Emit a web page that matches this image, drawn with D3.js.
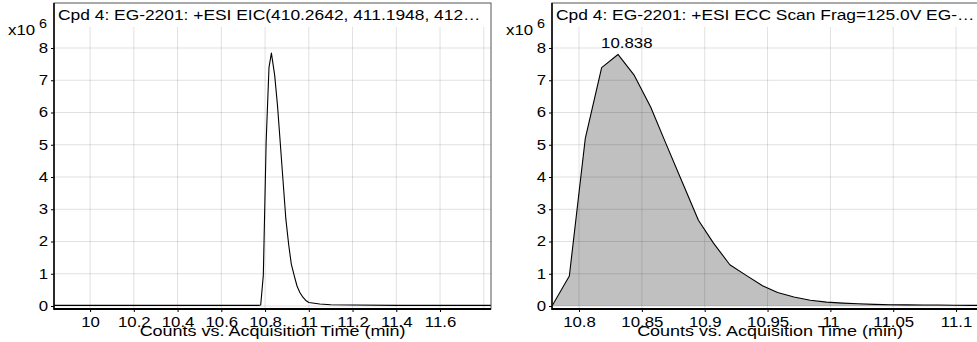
<!DOCTYPE html>
<html>
<head>
<meta charset="utf-8">
<script src="https://cdn.jsdelivr.net/npm/d3@7"></script>
<style>
  body { margin: 0; background: #fff; }
  svg { display: block; font-family: "Liberation Sans", Arial, sans-serif; }
</style>
</head>
<body>
<div id="chart"></div>
<script>
// counts are in units of 10^6
const eicTitle = "Cpd 4: EG-2201: +ESI EIC(410.2642, 411.1948, 412\u2026";
const eccTitle = "Cpd 4: EG-2201: +ESI ECC Scan Frag=125.0V EG-\u2026";
const xTitle = "Counts vs. Acquisition Time (min)";

const eicTimes = [9.835, 10.0, 10.2, 10.4, 10.6, 10.77, 10.78, 10.792, 10.805, 10.818, 10.829, 10.844,
  10.857, 10.869, 10.882, 10.895, 10.908, 10.92, 10.933, 10.946, 10.959, 10.972, 10.985, 11.0,
  11.05, 11.1, 11.2, 11.4, 11.6, 11.833];
const eicCounts = [0.02, 0.02, 0.02, 0.02, 0.02, 0.02, 0.03, 0.95, 5.1, 7.4, 7.84, 7.15,
  6.2, 5.1, 3.9, 2.7, 1.9, 1.3, 0.95, 0.62, 0.42, 0.28, 0.18, 0.11,
  0.06, 0.04, 0.03, 0.02, 0.02, 0.02];

const eccTimes = [10.7785, 10.7923, 10.805, 10.818, 10.831, 10.844, 10.857, 10.869, 10.882, 10.895,
  10.907, 10.92, 10.933, 10.946, 10.958, 10.971, 10.984, 10.997, 11.01, 11.022, 11.035, 11.048,
  11.061, 11.074, 11.086, 11.099, 11.112, 11.1254];
const eccCounts = [0, 0.93, 5.2, 7.39, 7.8, 7.15, 6.17, 5.05, 3.85, 2.66,
  1.95, 1.28, 0.95, 0.63, 0.42, 0.28, 0.18, 0.12, 0.09, 0.07, 0.05, 0.04,
  0.035, 0.03, 0.03, 0.025, 0.02, 0.02];
const eccPeakLabel = 10.838;

const yTicks = [0, 1, 2, 3, 4, 5, 6, 7, 8];
const eicXTicks = [10, 10.2, 10.4, 10.6, 10.8, 11, 11.2, 11.4, 11.6];
const eicXGrid = [10, 10.2, 10.4, 10.6, 10.8, 11, 11.2, 11.4, 11.6, 11.8];
const eccXTicks = [10.8, 10.85, 10.9, 10.95, 11, 11.05, 11.1];

const width = 977, height = 342;
const stretch = 1.2;   // text in the picture is drawn a little wide
const frameTop = 3, dataTop = 27, frameBottom = 309;

const svg = d3.select("#chart").append("svg")
  .attr("width", width)
  .attr("height", height);

function label(g, x, y, str, size, anchor) {
  return g.append("text")
    .attr("transform", `translate(${x},${y}) scale(${stretch},1)`)
    .attr("text-anchor", anchor || "start")
    .style("font-size", size + "px")
    .attr("fill", "#000")
    .text(str);
}

function drawPanel(opts) {
  const left = opts.left, right = opts.right;
  const g = svg.append("g");

  const x = d3.scaleLinear().domain(opts.xDomain).range([left, right]);
  const y = d3.scaleLinear().domain([0, 8]).range([306, 48]);

  const clipId = "clip" + opts.id;
  svg.append("clipPath").attr("id", clipId)
    .append("rect")
      .attr("x", left).attr("y", dataTop)
      .attr("width", right - left).attr("height", frameBottom - dataTop);

  const data = opts.times.map((t, i) => [t, opts.counts[i]]);

  // filled trace goes under the grid
  if (opts.fill) {
    g.append("path")
      .datum(data)
      .attr("clip-path", `url(#${clipId})`)
      .attr("fill", "#c0c0c0")
      .attr("d", d3.area().x(d => x(d[0])).y0(y(0)).y1(d => y(d[1])));
  }

  // grid
  g.append("g")
    .selectAll("line")
    .data(yTicks)
    .join("line")
      .attr("x1", left).attr("x2", right)
      .attr("y1", d => y(d)).attr("y2", d => y(d))
      .attr("stroke", "#000").attr("stroke-opacity", 0.12);

  g.append("g")
    .selectAll("line")
    .data(opts.xGrid)
    .join("line")
      .attr("x1", d => x(d)).attr("x2", d => x(d))
      .attr("y1", dataTop).attr("y2", frameBottom)
      .attr("stroke", "#000").attr("stroke-opacity", 0.12);

  // trace line
  g.append("path")
    .datum(data)
    .attr("clip-path", `url(#${clipId})`)
    .attr("fill", "none")
    .attr("stroke", "#000")
    .attr("stroke-width", 1.1)
    .attr("stroke-linejoin", "round")
    .attr("d", d3.line().x(d => x(d[0])).y(d => y(d[1])));

  if (opts.peak) {
    label(g, x(opts.peak), 48, opts.peak.toFixed(3), 14, "middle");
  }

  // frame
  g.append("rect")
    .attr("x", left).attr("y", frameTop)
    .attr("width", right - left).attr("height", frameBottom - frameTop)
    .attr("fill", "none")
    .attr("stroke", "#555")
    .attr("stroke-width", 1);

  label(g, left + 4, 20, opts.title, 14.5, "start");

  // y axis
  const yAxis = g.append("g")
    .attr("transform", `translate(${left},0)`)
    .call(d3.axisLeft(y).tickValues(yTicks).tickSize(3).tickPadding(2).tickFormat(d3.format("d")));
  yAxis.select(".domain").remove();
  yAxis.selectAll("line").attr("stroke", "#000");
  yAxis.selectAll("text")
    .attr("transform", `scale(${stretch},1)`)
    .style("font-size", "14px")
    .attr("font-family", null);
  g.append("line")
    .attr("x1", left).attr("x2", left)
    .attr("y1", frameTop).attr("y2", frameBottom + 1)
    .attr("stroke", "#000").attr("stroke-width", 1.5);

  label(g, left - 46, 35, "x10", 14, "start");
  label(g, left - 15, 28, "6", 12, "start");

  // x axis
  const xAxis = g.append("g")
    .attr("transform", `translate(0,${frameBottom})`)
    .call(d3.axisBottom(x).tickValues(opts.xTicks).tickSize(3).tickPadding(5).tickFormat(d => String(d)));
  xAxis.select(".domain").remove();
  xAxis.selectAll("line").attr("stroke", "#000");
  xAxis.selectAll("text")
    .attr("transform", `scale(${stretch},1)`)
    .style("font-size", "14px")
    .attr("font-family", null);
  g.append("line")
    .attr("x1", left).attr("x2", right)
    .attr("y1", frameBottom).attr("y2", frameBottom)
    .attr("stroke", "#000").attr("stroke-width", 2);

  label(g, (left + right) / 2, 336, xTitle, 15, "middle");
}

drawPanel({
  id: 1, left: 54, right: 491,
  xDomain: [9.835, 11.833],
  times: eicTimes, counts: eicCounts,
  xTicks: eicXTicks, xGrid: eicXGrid,
  title: eicTitle, fill: false
});

drawPanel({
  id: 2, left: 552, right: 988,
  xDomain: [10.7785, 11.1254],
  times: eccTimes, counts: eccCounts,
  xTicks: eccXTicks, xGrid: eccXTicks,
  title: eccTitle, fill: true, peak: eccPeakLabel
});
</script>
</body>
</html>
